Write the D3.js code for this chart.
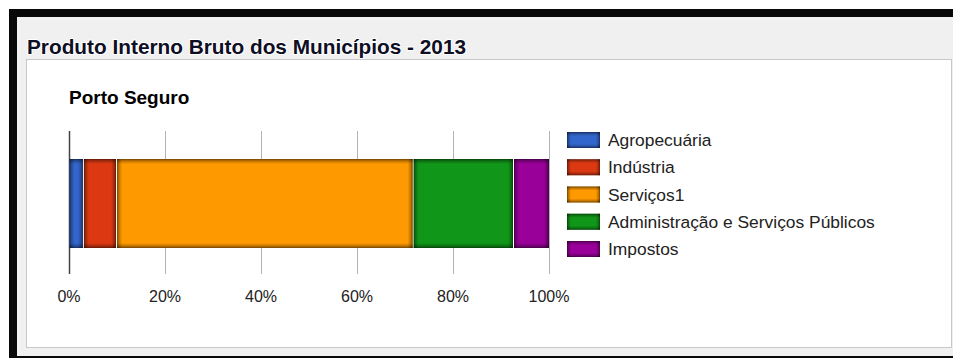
<!DOCTYPE html>
<html>
<head>
<meta charset="utf-8">
<script src="https://cdn.jsdelivr.net/npm/d3@7"></script>
<style>
  html, body { margin: 0; padding: 0; background: #fff; overflow: hidden; }
  svg { display: block; font-family: Arial, "Liberation Sans", sans-serif; }
</style>
</head>
<body>
<svg id="chart" width="953" height="358"></svg>
<script>
// ===== DATA =====
const categories = ['Agropecuária', 'Indústria', 'Serviços1', 'Administração e Serviços Públicos', 'Impostos'];
const shares = [2.9, 6.9, 61.8, 20.9, 7.5];
const colors = ['#3366cc', '#dc3912', '#ff9900', '#109618', '#990099'];
const tickValues = [0, 20, 40, 60, 80, 100];
const title = 'Produto Interno Bruto dos Municípios - 2013';
const subtitle = 'Porto Seguro';

const svg = d3.select('#chart');
const W = 953, H = 358;

// edge gradients for the beveled look
const defs = svg.append('defs');
const edges = [
    { id: 'eL', x1: 0, y1: 0, x2: 1, y2: 0 },
    { id: 'eR', x1: 1, y1: 0, x2: 0, y2: 0 },
    { id: 'eT', x1: 0, y1: 0, x2: 0, y2: 1 },
    { id: 'eB', x1: 0, y1: 1, x2: 0, y2: 0 }
];
edges.forEach(e => {
    const g = defs.append('linearGradient').attr('id', e.id)
        .attr('x1', e.x1).attr('y1', e.y1).attr('x2', e.x2).attr('y2', e.y2);
    g.append('stop').attr('offset', 0).attr('stop-color', '#000').attr('stop-opacity', 0.55);
    g.append('stop').attr('offset', 0.4).attr('stop-color', '#000').attr('stop-opacity', 0.25);
    g.append('stop').attr('offset', 1).attr('stop-color', '#000').attr('stop-opacity', 0);
});

function bevel(sel, x0, y0, w, h, e) {
    sel.append('rect').attr('x', x0).attr('y', y0).attr('width', e).attr('height', h).attr('fill', 'url(#eL)');
    sel.append('rect').attr('x', x0 + w - e).attr('y', y0).attr('width', e).attr('height', h).attr('fill', 'url(#eR)');
    sel.append('rect').attr('x', x0).attr('y', y0).attr('width', w).attr('height', e).attr('fill', 'url(#eT)');
    sel.append('rect').attr('x', x0).attr('y', y0 + h - e).attr('width', w).attr('height', e).attr('fill', 'url(#eB)');
}

// ===== FRAME =====
svg.append('rect').attr('x', 0).attr('y', 0).attr('width', W).attr('height', H).attr('fill', '#fff');
svg.append('rect').attr('x', 17).attr('y', 17).attr('width', W - 17).attr('height', 339).attr('fill', '#f0f0f0');
svg.append('rect').attr('x', 9).attr('y', 9).attr('width', W - 9).attr('height', 8).attr('fill', '#080808');
svg.append('rect').attr('x', 9).attr('y', 9).attr('width', 8).attr('height', H - 9).attr('fill', '#080808');
svg.append('rect').attr('x', 17).attr('y', 356).attr('width', W - 17).attr('height', 2).attr('fill', '#080808');
svg.append('rect').attr('x', 26.5).attr('y', 59.5).attr('width', 925).attr('height', 288)
    .attr('fill', '#fff').attr('stroke', '#c8c8c8');

svg.append('text')
    .attr('x', 27).attr('y', 54)
    .style('font-size', '20.8px').style('font-weight', 'bold').style('fill', '#0e0e24')
    .style('paint-order', 'stroke').style('stroke', '#fff').style('stroke-width', 2)
    .text(title);

svg.append('text')
    .attr('x', 69).attr('y', 104)
    .style('font-size', '19px').style('font-weight', 'bold').style('fill', '#000')
    .text(subtitle);

// ===== CHART =====
const x = d3.scaleLinear().domain([0, 100]).range([69, 549]);
const gridTop = 131, gridBottom = 274;
const barTop = 159, barBottom = 248;

const grid = svg.append('g');
grid.selectAll('line').data(tickValues).join('line')
    .attr('x1', d => Math.round(x(d)) + 0.5).attr('x2', d => Math.round(x(d)) + 0.5)
    .attr('y1', gridTop).attr('y2', gridBottom)
    .attr('stroke', d => d === 0 ? '#444' : '#b4b4b4')
    .attr('stroke-width', d => d === 0 ? 1.5 : 1);

const stacked = [];
let acc = 0;
shares.forEach((v, i) => { stacked.push({ start: acc, end: acc + v, color: colors[i] }); acc += v; });

const bars = svg.append('g').selectAll('g').data(stacked).join('g');
bars.each(function (d) {
    const x0 = x(d.start) + (d.start === 0 ? 0.5 : 1);
    const w = x(d.end) - x0;
    const g = d3.select(this);
    g.append('rect').attr('x', x0).attr('y', barTop).attr('width', w).attr('height', barBottom - barTop)
        .attr('fill', d.color);
    bevel(g, x0, barTop, w, barBottom - barTop, 5);
});

svg.append('g').selectAll('text').data(tickValues).join('text')
    .attr('x', d => x(d)).attr('y', 302)
    .attr('text-anchor', 'middle')
    .style('font-size', '16px').style('fill', '#222')
    .text(d => d + '%');

// ===== LEGEND =====
const ly = d3.scalePoint().domain(categories).range([140, 249]);
const leg = svg.append('g').selectAll('g').data(categories).join('g')
    .attr('transform', d => `translate(567, ${ly(d)})`);
leg.append('rect')
    .attr('x', 0).attr('y', -8).attr('width', 33).attr('height', 16)
    .attr('fill', (d, i) => colors[i]);
leg.each(function () { bevel(d3.select(this), 0, -8, 33, 16, 4); });
leg.append('text')
    .attr('x', 41).attr('y', 6)
    .style('font-size', '17.4px').style('fill', '#222')
    .text(d => d);
</script>
</body>
</html>
